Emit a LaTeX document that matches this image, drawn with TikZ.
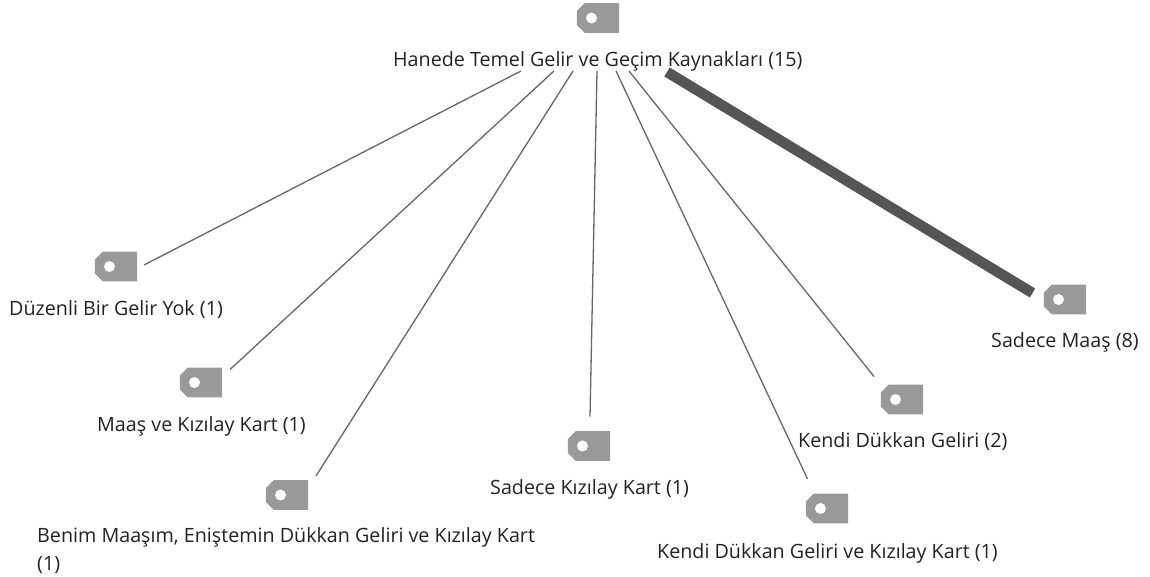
\documentclass[tikz,border=0pt]{standalone}
\usepackage{fontspec}
\setmainfont{Open Sans}
\usetikzlibrary{positioning, calc}
\definecolor{tagc}{HTML}{999999}
\definecolor{linec}{HTML}{666666}
\definecolor{heavyc}{HTML}{555555}
\definecolor{textc}{HTML}{222222}
\tikzstyle{tag} = [rectangle,minimum width=42pt,minimum height=29.5pt,inner sep=0pt]
\tikzstyle{tagfill} = [fill=tagc]
\tikzstyle{hole} = [circle,fill=white,minimum size=11pt,inner sep=0pt]
\tikzstyle{lbl} = [anchor=base west,inner sep=0pt,text=textc,font=\fontsize{19.7pt}{28pt}\selectfont]
\tikzstyle{link} = [linec,line width=1.3pt]
\tikzstyle{heavy} = [heavyc,line width=10.5pt]

\begin{document}
\begin{tikzpicture}[x=1pt,y=-1pt]
	\useasboundingbox (0,0) rectangle (1150,577);
	
	\coordinate (row1) at (0,18);
	\coordinate (row2) at ($ (row1) + (0,248.5) $);
	\coordinate (row3) at ($ (row1) + (0,364.5) $);
	\coordinate (row4) at ($ (row1) + (0,477) $);
	
	\newcommand{\TAG}[2]{\node[tag] (#1) at (#2) {};\fill[tagfill] ($ (#1.north west) + (8,0) $) -- (#1.north east) -- (#1.south east) -- ($ (#1.south west) + (8,0) $) -- ($ (#1.south west) + (0,-8) $) -- ($ (#1.north west) + (0,8) $) -- cycle;\node[hole] (#1hole) at ($ (#1) + (-6.5,0) $) {};}
	
	\TAG{gecim}{$ (row1) + (598,0) $}
	\TAG{yok}{$ (row2) + (116,0) $}
	\TAG{maaskart}{$ (row3) + (201,0) $}
	\TAG{benim}{$ (row4) + (287,0) $}
	\TAG{kart}{$ (row1) + (589,428) $}
	\TAG{dukkankart}{$ (row1) + (827,490.5) $}
	\TAG{dukkan}{$ (row1) + (902,381.5) $}
	\TAG{maas}{$ (row1) + (1065,281.5) $}
	
	\node[lbl] (gecimtext) at ($ (gecim) + (-205,49) $) {Hanede Temel Gelir ve Geçim Kaynakları (15)};
	\node[lbl] (yoktext) at ($ (yok) + (-107,48.5) $) {Düzenli Bir Gelir Yok (1)};
	\node[lbl] (maaskarttext) at ($ (maaskart) + (-104,48.5) $) {Maaş ve Kızılay Kart (1)};
	\node[lbl] (benimtext) at ($ (benim) + (-250,47) $) {Benim Maaşım, Eniştemin Dükkan Geliri ve Kızılay Kart};
	\node[lbl] (benimtext2) at ($ (benim) + (-250,75) $) {(1)};
	\node[lbl] (karttext) at ($ (kart) + (-99,48) $) {Sadece Kızılay Kart (1)};
	\node[lbl] (dukkankarttext) at ($ (dukkankart) + (-170,50) $) {Kendi Dükkan Geliri ve Kızılay Kart (1)};
	\node[lbl] (dukkantext) at ($ (dukkan) + (-104,48) $) {Kendi Dükkan Geliri (2)};
	\node[lbl] (maastext) at ($ (maas) + (-74,48) $) {Sadece Maaş (8)};
	
	\coordinate (yokstart) at ($ (gecim) + (-77,53) $);
	\coordinate (maaskartstart) at ($ (gecim) + (-44,53) $);
	\coordinate (benimstart) at ($ (gecim) + (-25,53) $);
	\coordinate (kartstart) at ($ (gecim) + (-1,53) $);
	\coordinate (dukkankartstart) at ($ (gecim) + (18,53) $);
	\coordinate (dukkanstart) at ($ (gecim) + (31,53) $);
	\coordinate (maasstart) at ($ (gecim) + (69,54) $);
	
	\coordinate (yokend) at ($ (yok) + (28,-1.5) $);
	\coordinate (maaskartend) at ($ (maaskart) + (29,-13) $);
	\coordinate (benimend) at ($ (benim) + (29,-19) $);
	\coordinate (kartend) at ($ (kart) + (1,-29.5) $);
	\coordinate (dukkankartend) at ($ (dukkankart) + (-19.5,-29.5) $);
	\coordinate (dukkanend) at ($ (dukkan) + (-28,-23) $);
	\coordinate (maasend) at ($ (maas) + (-32.5,-6.5) $);
	
	\draw[link] (yokstart) -- (yokend);
	\draw[link] (maaskartstart) -- (maaskartend);
	\draw[link] (benimstart) -- (benimend);
	\draw[link] (kartstart) -- (kartend);
	\draw[link] (dukkankartstart) -- (dukkankartend);
	\draw[link] (dukkanstart) -- (dukkanend);
	\draw[heavy] (maasstart) -- (maasend);
	
\end{tikzpicture}
\end{document}
